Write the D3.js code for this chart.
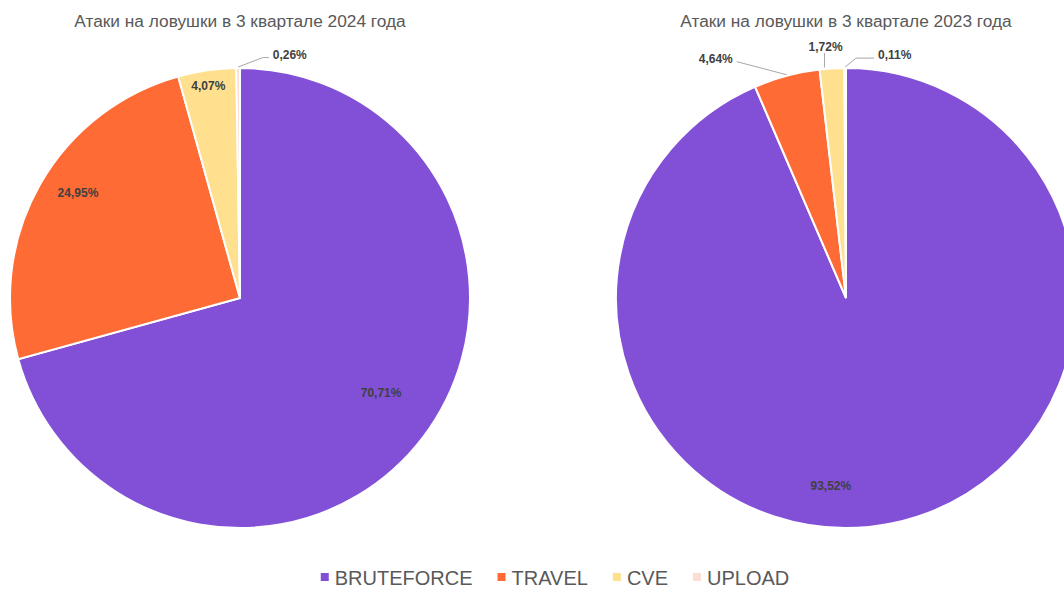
<!DOCTYPE html>
<html>
<head>
<meta charset="utf-8">
<script src="https://cdn.jsdelivr.net/npm/d3@7"></script>
<style>
  html, body { margin: 0; padding: 0; background: #fff; }
  svg { display: block; font-family: "Liberation Sans", Arial, sans-serif; }
</style>
</head>
<body>
<svg id="chart" width="1064" height="590"></svg>
<script>
// ---- data ----
const categories = ["BRUTEFORCE", "TRAVEL", "CVE", "UPLOAD"];
const titles = ["Атаки на ловушки в 3 квартале 2024 года", "Атаки на ловушки в 3 квартале 2023 года"];
const values2024 = [70.71, 24.95, 4.07, 0.26];
const values2023 = [93.52, 4.64, 1.72, 0.11];
const colors = ["#8250d7", "#ff6b35", "#fee08f", "#fcdcd3"];

// ---- layout (label placement, not data) ----
const layouts = [
  { cx: 240, cy: 298, labels: [
      { type: "in", r: 0.74, deg: 124 },
      { type: "in", r: 0.84, deg: 303 },
      { type: "in", r: 0.93, deg: 351.5 },
      { type: "out", elbowR: 1.05, elbowDeg: 5.4, tail: 6, anchor: "start" }
  ]},
  { cx: 846, cy: 298, labels: [
      { type: "in", r: 0.82, deg: 184.6 },
      { type: "out", elbowR: 1.132, elbowDeg: 335.2, tail: 0, anchor: "end" },
      { type: "out", elbowR: 1.069, elbowDeg: 355.0, tail: 0, anchor: "middle" },
      { type: "out", elbowR: 1.044, elbowDeg: 2.4, tail: 18, anchor: "start" }
  ]}
];
const R = 230;

const svg = d3.select("#chart");
const fmt = v => v.toFixed(2).replace(".", ",") + "%";
const polar = (cx, cy, r, deg) => {
  const a = deg * Math.PI / 180;
  return [cx + r * Math.sin(a), cy - r * Math.cos(a)];
};

const pie = d3.pie().sort(null).value(d => d);
const arc = d3.arc().innerRadius(0).outerRadius(R);

[values2024, values2023].forEach((vals, i) => {
  const L = layouts[i];
  const g = svg.append("g");
  const arcs = pie(vals);

  g.append("text")
    .attr("x", L.cx).attr("y", 27)
    .attr("text-anchor", "middle")
    .attr("font-size", 17.3)
    .attr("fill", "#595959")
    .text(titles[i]);

  const pg = g.append("g").attr("transform", `translate(${L.cx},${L.cy})`);
  pg.selectAll("path").data(arcs).join("path")
    .attr("d", arc)
    .attr("fill", (d, j) => colors[j])
    .attr("stroke", "#fff")
    .attr("stroke-width", 2);

  arcs.forEach((d, j) => {
    const lb = L.labels[j];
    const midDeg = (d.startAngle + d.endAngle) / 2 * 180 / Math.PI;
    if (lb.type === "in") {
      const deg = lb.deg == null ? midDeg : lb.deg;
      const [x, y] = polar(L.cx, L.cy, R * lb.r, deg);
      g.append("text").attr("x", x).attr("y", y + 4)
        .attr("text-anchor", "middle")
        .attr("font-size", 12).attr("font-weight", "bold")
        .attr("fill", "#404040")
        .text(fmt(vals[j]));
    } else {
      const [sx, sy] = polar(L.cx, L.cy, R, midDeg);
      const [ex, ey] = polar(L.cx, L.cy, R * lb.elbowR, lb.elbowDeg);
      const dir = lb.anchor === "end" ? -1 : 1;
      const tx = ex + dir * lb.tail;
      const pts = lb.anchor === "middle" ? [[ex, sy - 1], [ex, ey]] : [[sx, sy - 1], [ex, ey], [tx, ey]];
      g.append("path")
        .attr("d", d3.line()(pts))
        .attr("fill", "none").attr("stroke", "#a6a6a6").attr("stroke-width", 1);
      let lx, ly;
      if (lb.anchor === "middle") { lx = ex + 1; ly = ey - 2; }
      else { lx = tx + dir * 4; ly = ey + 1; }
      g.append("text").attr("x", lx).attr("y", ly)
        .attr("text-anchor", lb.anchor)
        .attr("font-size", 12).attr("font-weight", "bold")
        .attr("fill", "#404040")
        .text(fmt(vals[j]));
    }
  });
});

// ---- legend ----
const legend = svg.append("g");
const items = [];
categories.forEach((c, i) => {
  const it = legend.append("g");
  it.append("rect").attr("x", 0).attr("y", -12).attr("width", 8).attr("height", 8).attr("fill", colors[i]);
  const t = it.append("text").attr("x", 14).attr("y", 0)
    .attr("font-size", 20).attr("fill", "#595959").text(c);
  items.push({ it, w: 14 + t.node().getComputedTextLength() });
});
const gap = 25;
const totalW = d3.sum(items, d => d.w) + gap * (items.length - 1);
let x0 = 555 - totalW / 2;
items.forEach(d => { d.it.attr("transform", `translate(${x0},585)`); x0 += d.w + gap; });
</script>
</body>
</html>
